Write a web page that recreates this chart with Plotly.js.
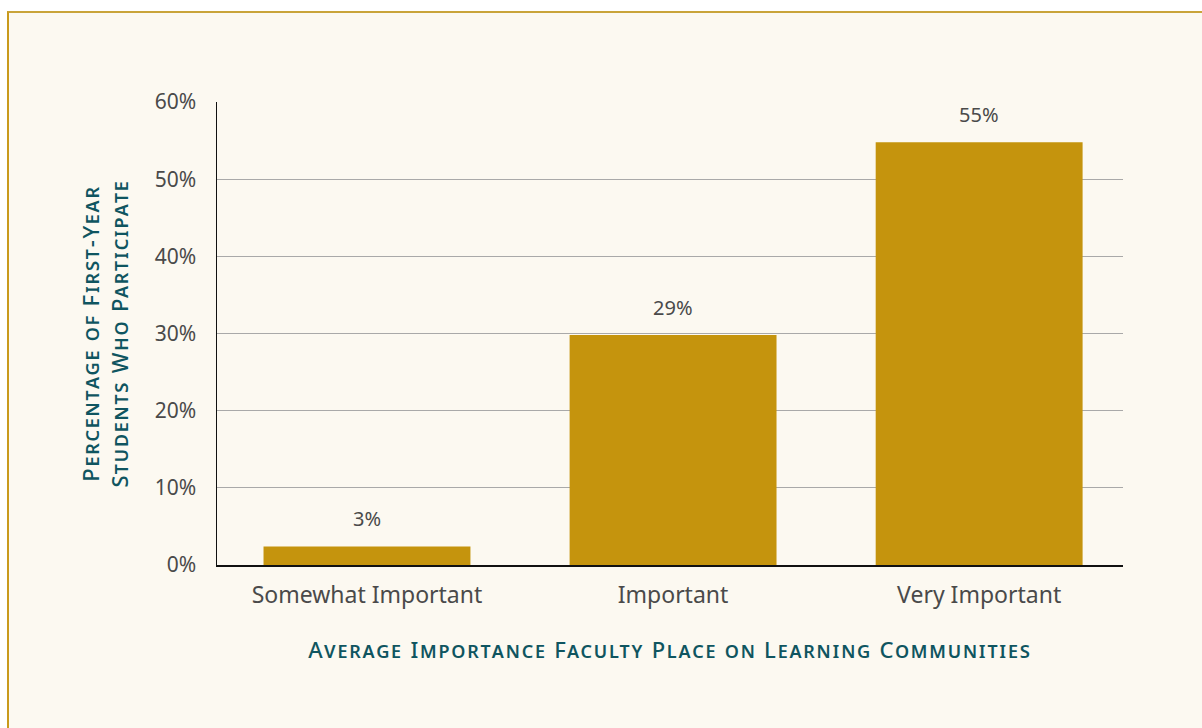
<!DOCTYPE html>
<html>
<head>
<meta charset="utf-8">
<script src="https://cdn.plot.ly/plotly-3.0.1.min.js"></script>
<style>
  html, body { margin:0; padding:0; background:#ffffff; }
  #frame { position:absolute; left:7px; top:11px; width:1195px; height:717px; background:#fcf9f1;
           border-top:2px solid #c9a43a; border-left:2px solid #c99a1c; box-sizing:border-box; }
  #chart { position:absolute; left:0; top:0; width:1202px; height:728px; }
  #chart .xtitle, #chart .ytitle { letter-spacing:1.8px; }
</style>
</head>
<body>
<div id="frame"></div>
<div id="chart"></div>
<script>
const categories = ["Somewhat Important", "Important", "Very Important"];
const values = [2.4, 29.8, 54.8];
const valueLabels = ["3%", "29%", "55%"];
const yTickValues = [0, 10, 20, 30, 40, 50, 60];
const yTickLabels = ["0%", "10%", "20%", "30%", "40%", "50%", "60%"];
const xTitle = "Average Importance Faculty Place on Learning Communities";
const yTitle = "Percentage of First-Year<br>Students Who Participate";

const fam = "Noto Sans, Open Sans, sans-serif";
const titleFont = {family: fam, size: 22, color: "#0f5560", variant: "small-caps", weight: 500};

const trace = {
  type: "bar",
  x: categories,
  y: values,
  marker: {color: "#c5940d"},
  hoverinfo: "x+y"
};

const annotations = categories.map((c, i) => ({
  x: c, y: values[i], text: valueLabels[i],
  xref: "x", yref: "y", showarrow: false,
  yanchor: "bottom", yshift: 12,
  font: {family: fam, size: 20, color: "#4a4a4a"}
}));

const layout = {
  width: 1202, height: 728,
  paper_bgcolor: "rgba(0,0,0,0)",
  plot_bgcolor: "rgba(0,0,0,0)",
  margin: {l: 217, r: 79, t: 102, b: 163, autoexpand: false},
  bargap: 0.324,
  showlegend: false,
  xaxis: {
    type: "category",
    range: [-0.49, 2.47],
    showgrid: false,
    showline: true, linecolor: "#111111", linewidth: 1.5,
    ticks: "", ticklabelstandoff: 9,
    tickfont: {family: fam, size: 23, color: "#4a4a4a"},
    automargin: false,
    title: {text: xTitle, font: titleFont, standoff: 33}
  },
  yaxis: {
    range: [0, 60],
    tickvals: yTickValues, ticktext: yTickLabels,
    showgrid: true, gridcolor: "#a9a9a9", gridwidth: 1.2,
    showline: true, linecolor: "#111111", linewidth: 1.5,
    zeroline: false,
    ticks: "", ticklabelstandoff: 15,
    tickfont: {family: fam, size: 21, color: "#4a4a4a"},
    automargin: false,
    title: {text: yTitle, font: titleFont, standoff: 20}
  },
  annotations: annotations
};

Plotly.newPlot("chart", [trace], layout, {displayModeBar: false, staticPlot: true});
</script>
</body>
</html>
